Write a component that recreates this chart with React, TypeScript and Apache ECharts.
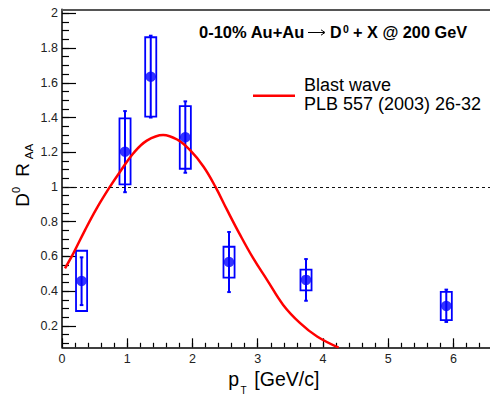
import React, { useEffect, useRef } from "react";
import * as echarts from "echarts";

// ---- data ----
const ptValues = [0.3, 0.966, 1.36, 1.89, 2.56, 3.74, 5.89];
const raaValues = [0.459, 1.203, 1.635, 1.286, 0.568, 0.465, 0.315];
const statLow = [0.32, 0.97, 1.4, 1.082, 0.395, 0.345, 0.223];
const statHigh = [0.595, 1.437, 1.871, 1.493, 0.741, 0.585, 0.409];
const sysLow = [0.286, 1.015, 1.405, 1.105, 0.478, 0.405, 0.234];
const sysHigh = [0.633, 1.395, 1.862, 1.466, 0.656, 0.524, 0.396];

const blastX = [0.046, 0.174, 0.353, 0.532, 0.736, 0.89, 1.094, 1.3, 1.55, 1.78, 1.96, 2.17, 2.35, 2.53, 2.73, 2.93, 3.14, 3.39, 3.65, 3.91, 4.24];
const blastY = [0.532, 0.618, 0.752, 0.877, 1.002, 1.088, 1.194, 1.267, 1.3, 1.27, 1.213, 1.117, 1.002, 0.868, 0.724, 0.59, 0.467, 0.321, 0.216, 0.139, 0.075];

const xMajorTicks = [0, 1, 2, 3, 4, 5, 6];
const yMajorTicks = [0.2, 0.4, 0.6, 0.8, 1, 1.2, 1.4, 1.6, 1.8, 2];
const referenceLevel = 1;

const X_MIN = 0;
const X_MAX = 6.56;
const Y_MIN = 0.077;
const Y_MAX = 2.023;

const FF = '"Liberation Sans", Arial, Helvetica, sans-serif';
const BLUE = "#0000ff";
const RED = "#ff0000";
const BOX_HALF = 0.085;

const xMinorTicks: number[] = [];
for (let i = 1; i <= 33; i++) xMinorTicks.push(Math.round(i * 2) / 10);
const yMinorTicks: number[] = [];
for (let i = 2; i <= 40; i++) yMinorTicks.push(Math.round(i * 5) / 100);

export default function App() {
  const ref = useRef<HTMLDivElement>(null);
  useEffect(() => {
    if (!ref.current) return;
    const chart = echarts.init(ref.current, null, { renderer: "svg" });

    const boxData = ptValues.map((x, i) => [x, sysLow[i], sysHigh[i]]);
    const statData = ptValues.map((x, i) => [x, statLow[i], statHigh[i]]);
    const pointData = ptValues.map((x, i) => [x, raaValues[i]]);
    const curveData = blastX.map((x, i) => [x, blastY[i]]);

    const baseX = {
      type: "value",
      min: X_MIN,
      max: X_MAX,
      splitLine: { show: false },
    };
    const baseY = {
      type: "value",
      min: Y_MIN,
      max: Y_MAX,
      splitLine: { show: false },
    };

    const option: any = {
      animation: false,
      backgroundColor: "#ffffff",
      grid: { left: 62, right: 0, top: 9.3, bottom: 47.7, containLabel: false },
      xAxis: [
        {
          ...baseX,
          position: "bottom",
          axisLine: { show: true, onZero: false, lineStyle: { color: "#000", width: 1.5 } },
          axisTick: { show: true, inside: true, length: 9, customValues: xMajorTicks, lineStyle: { color: "#000", width: 1.2 } },
          axisLabel: {
            show: true,
            customValues: xMajorTicks,
            margin: 5,
            fontSize: 12.5,
            color: "#222",
            fontFamily: FF,
            showMinLabel: true,
            showMaxLabel: true,
          },
        },
        {
          ...baseX,
          position: "bottom",
          axisLine: { show: false, onZero: false },
          axisTick: { show: true, inside: true, length: 4.5, customValues: xMinorTicks, lineStyle: { color: "#000", width: 1.2 } },
          axisLabel: { show: false },
        },
        {
          ...baseX,
          position: "top",
          axisLine: { show: true, onZero: false, lineStyle: { color: "#555", width: 2 } },
          axisTick: { show: false },
          axisLabel: { show: false },
        },
      ],
      yAxis: [
        {
          ...baseY,
          position: "left",
          axisLine: { show: true, onZero: false, lineStyle: { color: "#000", width: 1.5 } },
          axisTick: { show: true, inside: true, length: 14, customValues: yMajorTicks, lineStyle: { color: "#000", width: 1.2 } },
          axisLabel: {
            show: true,
            customValues: yMajorTicks,
            margin: 4,
            fontSize: 12.5,
            color: "#222",
            fontFamily: FF,
            showMinLabel: true,
            showMaxLabel: true,
          },
        },
        {
          ...baseY,
          position: "left",
          axisLine: { show: false, onZero: false },
          axisTick: { show: true, inside: true, length: 7, customValues: yMinorTicks, lineStyle: { color: "#000", width: 1.2 } },
          axisLabel: { show: false },
        },
      ],
      graphic: [
        { type: "text", x: 199, y: 32.2, style: { text: "0-10% Au+Au", font: `bold 16.5px ${FF}`, fill: "#000", align: "left", verticalAlign: "middle" } },
        { type: "line", shape: { x1: 308, y1: 32.5, x2: 324, y2: 32.5 }, style: { stroke: "#000", lineWidth: 1 } },
        { type: "polyline", shape: { points: [[321, 29.8], [325, 32.5], [321, 35.2]] }, style: { stroke: "#000", lineWidth: 1, fill: "none" } },
        { type: "text", x: 330, y: 32.2, style: { text: "D", font: `bold 16px ${FF}`, fill: "#000", align: "left", verticalAlign: "middle" } },
        { type: "text", x: 343, y: 29, style: { text: "0", font: `bold 10.5px ${FF}`, fill: "#000", align: "left", verticalAlign: "middle" } },
        { type: "text", x: 353, y: 32.2, style: { text: "+ X @ 200 GeV", font: `bold 16.3px ${FF}`, fill: "#000", align: "left", verticalAlign: "middle" } },

        { type: "line", shape: { x1: 253, y1: 95.7, x2: 295, y2: 95.7 }, style: { stroke: RED, lineWidth: 2.5 } },
        { type: "text", x: 304, y: 84.7, style: { text: "Blast wave", font: `18px ${FF}`, fill: "#000", align: "left", verticalAlign: "middle" } },
        { type: "text", x: 304, y: 103.5, style: { text: "PLB 557 (2003) 26-32", font: `18px ${FF}`, fill: "#000", align: "left", verticalAlign: "middle" } },

        { type: "text", x: 228.3, y: 379, style: { text: "p", font: `19.5px ${FF}`, fill: "#000", align: "left", verticalAlign: "middle" } },
        { type: "text", x: 240.5, y: 390.3, style: { text: "T", font: `10px ${FF}`, fill: "#000", align: "left", verticalAlign: "middle" } },
        { type: "text", x: 254.3, y: 379, style: { text: "[GeV/c]", font: `19.5px ${FF}`, fill: "#000", align: "left", verticalAlign: "middle" } },

        { type: "text", x: 22, y: 200, rotation: Math.PI / 2, style: { text: "D", font: `19px ${FF}`, fill: "#000", align: "center", verticalAlign: "middle" } },
        { type: "text", x: 16, y: 190, rotation: Math.PI / 2, style: { text: "0", font: `11px ${FF}`, fill: "#000", align: "center", verticalAlign: "middle" } },
        { type: "text", x: 22, y: 170, rotation: Math.PI / 2, style: { text: "R", font: `19px ${FF}`, fill: "#000", align: "center", verticalAlign: "middle" } },
        { type: "text", x: 28.5, y: 151.5, rotation: Math.PI / 2, style: { text: "AA", font: `11.5px ${FF}`, fill: "#000", align: "center", verticalAlign: "middle" } },
      ],
      series: [
        {
          type: "custom",
          name: "sys",
          xAxisIndex: 0,
          yAxisIndex: 0,
          data: boxData,
          encode: { x: 0, y: [1, 2] },
          z: 3,
          renderItem: (params: any, api: any) => {
            const x = api.value(0);
            const lo = api.value(1);
            const hi = api.value(2);
            const p1 = api.coord([x - BOX_HALF, hi]);
            const p2 = api.coord([x + BOX_HALF, lo]);
            return {
              type: "rect",
              shape: { x: p1[0], y: p1[1], width: p2[0] - p1[0], height: p2[1] - p1[1] },
              style: { fill: "none", stroke: BLUE, lineWidth: 1.8 },
            };
          },
        },
        {
          type: "custom",
          name: "stat",
          xAxisIndex: 0,
          yAxisIndex: 0,
          data: statData,
          encode: { x: 0, y: [1, 2] },
          z: 3,
          renderItem: (params: any, api: any) => {
            const x = api.value(0);
            const top = api.coord([x, api.value(2)]);
            const bot = api.coord([x, api.value(1)]);
            const cap = 1.8;
            return {
              type: "group",
              children: [
                { type: "line", shape: { x1: top[0], y1: top[1], x2: bot[0], y2: bot[1] }, style: { stroke: BLUE, lineWidth: 2 } },
                { type: "line", shape: { x1: top[0] - cap, y1: top[1], x2: top[0] + cap, y2: top[1] }, style: { stroke: BLUE, lineWidth: 2 } },
                { type: "line", shape: { x1: bot[0] - cap, y1: bot[1], x2: bot[0] + cap, y2: bot[1] }, style: { stroke: BLUE, lineWidth: 2 } },
              ],
            };
          },
        },
        {
          type: "line",
          name: "Blast wave",
          xAxisIndex: 0,
          yAxisIndex: 0,
          data: curveData,
          smooth: 0.4,
          showSymbol: false,
          clip: true,
          z: 4,
          lineStyle: { color: RED, width: 2.5 },
          markLine: {
            silent: true,
            symbol: ["none", "none"],
            label: { show: false },
            lineStyle: { type: [3, 3], color: "#111", width: 1 },
            data: [{ yAxis: referenceLevel }],
          },
        },
        {
          type: "scatter",
          name: "D0 RAA",
          xAxisIndex: 0,
          yAxisIndex: 0,
          data: pointData,
          symbol: "circle",
          symbolSize: 10.5,
          z: 5,
          itemStyle: { color: BLUE },
        },
      ],
    };

    chart.setOption(option);
    return () => chart.dispose();
  }, []);

  return (
    <div
      ref={ref}
      style={{ position: "fixed", left: 0, top: 0, width: 490, height: 395, background: "#fff" }}
    />
  );
}
